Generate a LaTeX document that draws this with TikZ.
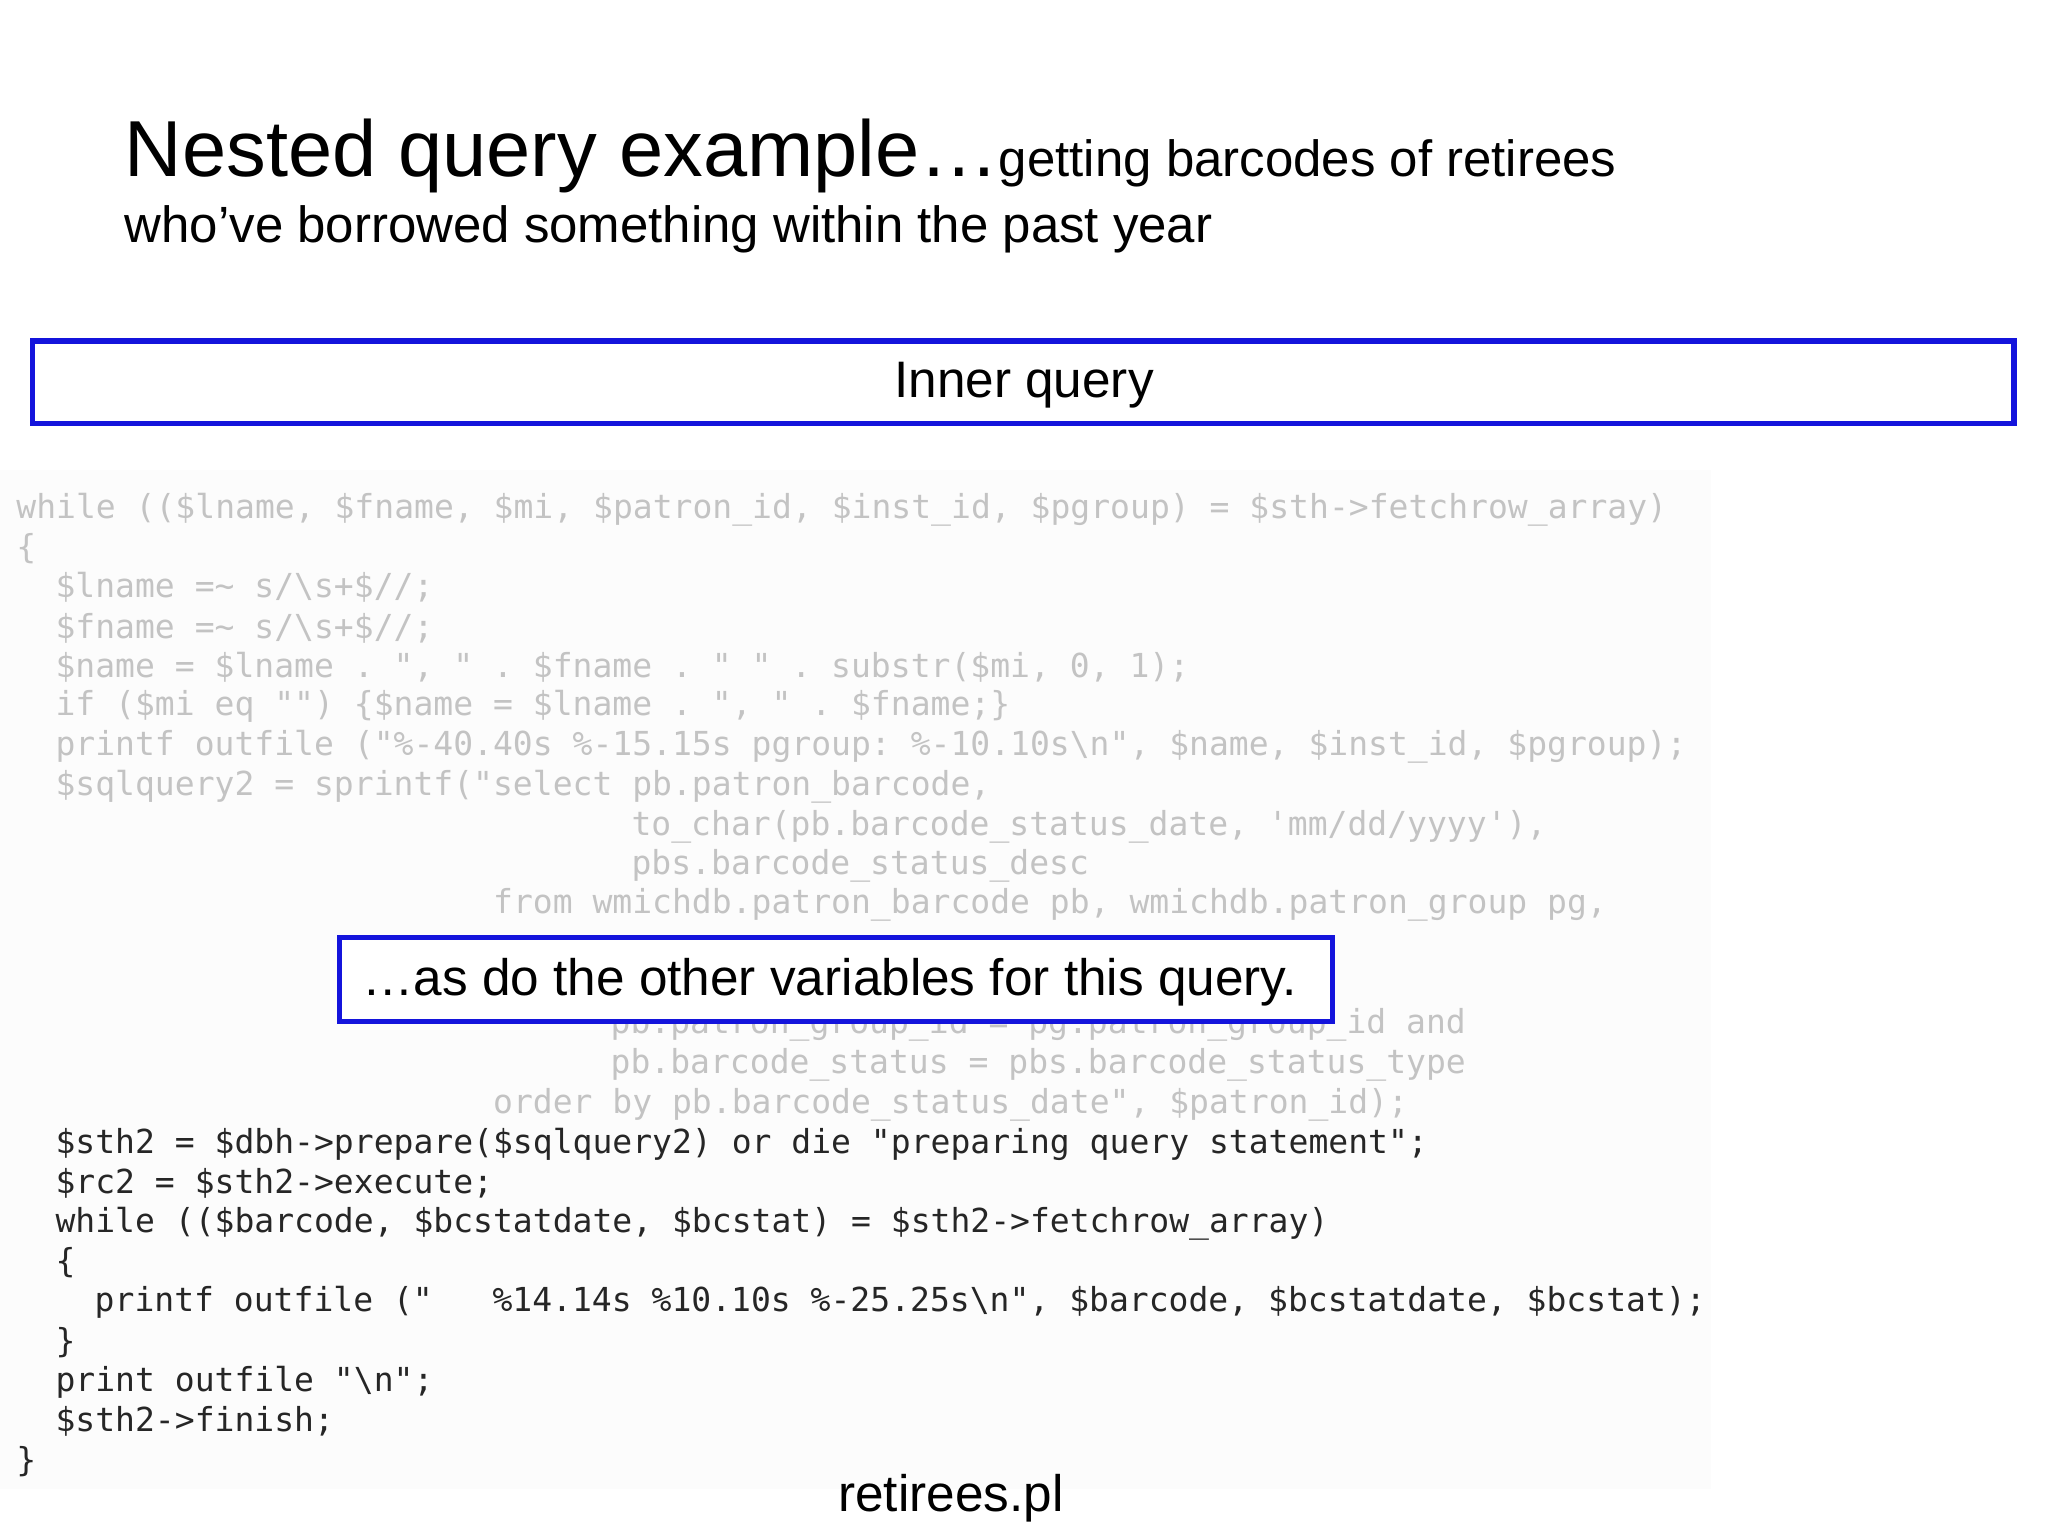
\documentclass[tikz,border=0pt]{standalone}
\usepackage{fontspec}
\setmainfont{Liberation Sans}
\setmonofont{DejaVu Sans Mono}
\usetikzlibrary{positioning}
\definecolor{boxblue}{RGB}{20,20,220}
\definecolor{fadegray}{RGB}{195,195,195}
\tikzset{
x=0.01306cm, y=-0.01306cm,
codeline/.style={anchor=west, inner sep=0pt, font=\fontsize{9.4}{11}\ttfamily},
faded/.style={codeline, text=fadegray},
dark/.style={codeline, text=black!85},
bluebox/.style={draw=boxblue, line width=1.5pt, fill=white},
}
\begin{document}
\begin{tikzpicture}
  \useasboundingbox (0,0) rectangle (1568,1176);
  \fill[gray!2] (0,360) rectangle (1310,1140);

  % title
  \node[anchor=base west, inner sep=0pt, font=\fontsize{22.6}{27}\selectfont] (title) at (95,135)
    {Nested query example\ldots{}\fontsize{14.5}{18}\selectfont getting barcodes of retirees};
  \node[anchor=base west, inner sep=0pt, font=\fontsize{14.5}{18}\selectfont] (subtitle) at (95,186)
    {who’ve borrowed something within the past year};

  % code
  \node[faded] (c1) at (12,390) {while ((\$lname, \$fname, \$mi, \$patron\_id, \$inst\_id, \$pgroup) = \$sth->fetchrow\_array)};
  \node[faded] (c2) at (12,420) {\{};
  \node[faded] (c3) at (42,450) {\$lname =\textasciitilde{} s/\textbackslash s+\$//;};
  \node[faded] (c4) at (42,481) {\$fname =\textasciitilde{} s/\textbackslash s+\$//;};
  \node[faded] (c5) at (42,511) {\$name = \$lname . ", " . \$fname . " " . substr(\$mi, 0, 1);};
  \node[faded] (c6) at (42,541) {if (\$mi eq "") \{\$name = \$lname . ", " . \$fname;\}};
  \node[faded] (c7) at (42,572) {printf outfile ("\%-40.40s \%-15.15s pgroup: \%-10.10s\textbackslash n", \$name, \$inst\_id, \$pgroup);};
  \node[faded] (c8) at (42,602) {\$sqlquery2 = sprintf("select pb.patron\_barcode,};
  \node[faded] (c9) at (483,633) {to\_char(pb.barcode\_status\_date, 'mm/dd/yyyy'),};
  \node[faded] (c10) at (483,663) {pbs.barcode\_status\_desc};
  \node[faded] (c11) at (377,693) {from wmichdb.patron\_barcode pb, wmichdb.patron\_group pg,};
  \node[faded] (c12) at (467,785) {pb.patron\_group\_id = pg.patron\_group\_id and};
  \node[faded] (c13) at (467,815) {pb.barcode\_status = pbs.barcode\_status\_type};
  \node[faded] (c14) at (377,846) {order by pb.barcode\_status\_date", \$patron\_id);};
  \node[dark] (c15) at (42,876) {\$sth2 = \$dbh->prepare(\$sqlquery2) or die "preparing query statement";};
  \node[dark] (c16) at (42,906) {\$rc2 = \$sth2->execute;};
  \node[dark] (c17) at (42,937) {while ((\$barcode, \$bcstatdate, \$bcstat) = \$sth2->fetchrow\_array)};
  \node[dark] (c18) at (42,967) {\{};
  \node[dark] (c19) at (72,997) {printf outfile ("\ \ \ \%14.14s \%10.10s \%-25.25s\textbackslash n", \$barcode, \$bcstatdate, \$bcstat);};
  \node[dark] (c20) at (42,1028) {\}};
  \node[dark] (c21) at (42,1058) {print outfile "\textbackslash n";};
  \node[dark] (c22) at (42,1088) {\$sth2->finish;};
  \node[dark] (c23) at (12,1119) {\}};

  % boxes
  \draw[bluebox] (25,261) rectangle (1542,324);
  \node[font=\fontsize{14.6}{18}\selectfont] (inner) at (784,295) {Inner query};
  \draw[bluebox] (260,718) rectangle (1020,782);
  \node[anchor=west, font=\fontsize{14.6}{18}\selectfont, inner sep=0pt] (other) at (277,752)
    {\ldots{}as do the other variables for this query.};

  \node[font=\fontsize{14.6}{18}\selectfont] (file) at (728,1147) {retirees.pl};
\end{tikzpicture}
\end{document}
